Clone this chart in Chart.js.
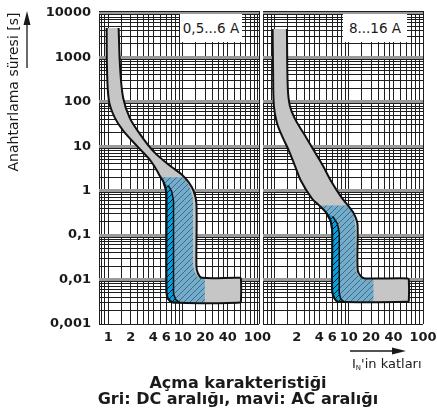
<!DOCTYPE html>
<html>
<head>
<meta charset="utf-8">
<script src="https://cdn.jsdelivr.net/npm/chart.js@4.4.1/dist/chart.umd.min.js"></script>
<style>
body { margin: 0; background: #fff; font-family: 'DejaVu Sans', sans-serif; color: #1a1a1a; }
#wrap { position: relative; width: 437px; height: 413px; overflow: hidden; }
canvas { position: absolute; top: 0; }
.box { position: absolute; top: 14px; height: 28px; background: #fff; font-size: 13.5px; line-height: 28px; text-align: center; }
#ytitle { position: absolute; left: 13px; top: 92px; transform: translate(-50%, -50%) rotate(-90deg); white-space: nowrap; font-size: 14px; }
#xunit { position: absolute; left: 352px; top: 356px; white-space: nowrap; font-size: 13px; }
#xunit sub { font-size: 7px; vertical-align: -2px; }
.cap { position: absolute; left: 0; width: 476px; text-align: center; font-weight: bold; font-size: 16px; line-height: 18px; white-space: nowrap; }
</style>
</head>
<body>
<div id="wrap">
  <canvas id="c1" width="280" height="350" style="left:0"></canvas>
  <canvas id="c2" width="175" height="350" style="left:262px"></canvas>
  <div class="box" style="left:180px;width:62px">0,5...6 A</div>
  <div class="box" style="left:343px;width:64px">8...16 A</div>
  <div id="ytitle">Anahtarlama süresi [s]</div>
  <svg width="437" height="413" style="position:absolute;left:0;top:0">
    <line x1="27" y1="68" x2="27" y2="22" stroke="#1a1a1a" stroke-width="1.3"/>
    <polygon points="27,11 23.5,25 30.5,25" fill="#1a1a1a"/>
    <line x1="350" y1="351" x2="394" y2="351" stroke="#1a1a1a" stroke-width="1.3"/>
    <polygon points="406,351 392,347.5 392,354.5" fill="#1a1a1a"/>
  </svg>
  <div id="xunit">I<sub>N</sub>'in katları</div>
  <div class="cap" style="top:374px">Açma karakteristiği</div>
  <div class="cap" style="top:390px">Gri: DC aralığı, mavi: AC aralığı</div>
</div>
<script>
// x: multiples of I_N, y: tripping time [s]
const yTickValues = [0.001, 0.01, 0.1, 1, 10, 100, 1000, 10000];
const yTickLabels = ['0,001', '0,01', '0,1', '1', '10', '100', '1000', '10000'];
const xTickValues1 = [1, 2, 4, 6, 10, 20, 40, 100];
const xTickLabels1 = ['1', '2', '4', '6', '10', '20', '40', '100'];
const xTickValues2 = [2, 4, 6, 10, 20, 40, 100];
const xTickLabels2 = ['2', '4', '6', '10', '20', '40', '100'];

// 0,5...6 A : grey DC band outline, AC (blue) area, dark blue strip
const band1 = [
  [0.95, 4560], [0.96, 578], [1.02, 105], [1.22, 43.8], [1.58, 22.4], [2.40, 10.3], [3.59, 5.0],
  [4.32, 3.15], [4.97, 2.08], [5.62, 1.45], [5.94, 1.01], [6.02, 0.668], [6.02, 0.0052],
  [6.35, 0.00364], [7.42, 0.00303], [58.5, 0.00303], [60.2, 0.0033], [60.2, 0.0102],
  [58.5, 0.011], [17.9, 0.011], [15.9, 0.0139], [15.2, 0.020], [15.2, 0.516], [14.0, 0.96],
  [12.0, 1.53], [9.64, 2.31], [6.66, 3.67], [3.94, 7.97], [2.63, 19.2], [1.93, 43.8],
  [1.58, 123], [1.44, 578], [1.375, 4560]
];
const ac1 = [
  [5.02, 2.0], [10.3, 2.0], [12.4, 1.20], [13.7, 0.668], [13.7, 0.020], [14.5, 0.0147],
  [16.1, 0.011], [19.7, 0.011], [19.7, 0.00303], [7.42, 0.00303], [6.35, 0.00364],
  [6.02, 0.0052], [6.02, 0.668], [5.94, 1.01], [5.62, 1.45]
];
const dark1 = [
  [5.45, 1.53], [5.94, 1.01], [6.02, 0.668], [6.02, 0.0052], [6.35, 0.00364], [7.42, 0.00303],
  [9.09, 0.00303], [8.03, 0.00354], [7.50, 0.00471], [7.50, 0.60], [7.09, 0.96], [6.37, 1.31]
];

// 8...16 A
const band2 = [
  [0.943, 4335], [0.957, 495], [0.981, 81.3], [1.077, 33.8], [1.257, 17.3], [1.56, 7.97],
  [1.88, 3.67], [2.26, 1.69], [3.18, 0.668], [3.99, 0.466], [5.06, 0.308], [5.72, 0.204],
  [5.99, 0.116], [5.99, 0.0052], [6.48, 0.00364], [7.12, 0.00316], [62.5, 0.00316],
  [64.5, 0.0034], [64.5, 0.0098], [62.5, 0.0106], [16.4, 0.0106], [14.5, 0.0119],
  [13.2, 0.0163], [13.2, 0.116], [13.0, 0.194], [11.68, 0.308], [10.0, 0.442], [7.81, 0.741],
  [5.72, 1.69], [4.47, 3.67], [3.39, 7.97], [2.48, 19.2], [1.88, 41.6], [1.61, 81.3],
  [1.51, 206], [1.47, 4335]
];
const ac2 = [
  [3.99, 0.466], [9.6, 0.466], [11.68, 0.293], [12.4, 0.128], [12.4, 0.0163], [13.6, 0.0122],
  [15.4, 0.0106], [21.5, 0.0106], [21.5, 0.00316], [7.12, 0.00316], [6.48, 0.00364],
  [5.99, 0.0052], [5.99, 0.116], [5.72, 0.204], [5.06, 0.308]
];
const dark2 = [
  [4.91, 0.316], [5.72, 0.204], [5.99, 0.116], [5.99, 0.0052], [6.48, 0.00364], [7.12, 0.00316],
  [8.65, 0.00316], [7.81, 0.00364], [7.45, 0.00496], [7.45, 0.116], [7.0, 0.184], [6.09, 0.264]
];

Chart.defaults.font.family = "'DejaVu Sans', sans-serif";
Chart.defaults.color = '#1a1a1a';

const minor = [1, 1.5, 2, 2.5, 3, 3.5, 4, 5, 6, 7, 8, 9];

function xGrid(min, max) {
  const out = [min];
  [0.1, 1, 10, 100].forEach(function (d) {
    minor.forEach(function (m) {
      const v = d * m;
      if (v > min * 1.01 && v < max * 0.99) out.push(v);
    });
  });
  out.push(max);
  return out;
}

function yGrid(max) {
  const out = [];
  yTickValues.forEach(function (d) {
    for (let m = 1; m <= 9; m++) {
      if (d * m <= max) out.push(d * m);
    }
  });
  out.push(max);
  return out;
}

function isDecade(v) {
  const l = Math.log10(v);
  return Math.abs(l - Math.round(l)) < 1e-9;
}

function hatch(ctx, bg, fg, step) {
  const c = document.createElement('canvas');
  c.width = c.height = step;
  const g = c.getContext('2d');
  g.fillStyle = bg;
  g.fillRect(0, 0, step, step);
  g.strokeStyle = fg;
  g.lineWidth = 1;
  g.beginPath();
  g.moveTo(-1, step + 1); g.lineTo(step + 1, -1);
  g.moveTo(-1, 1); g.lineTo(1, -1);
  g.moveTo(step - 1, step + 1); g.lineTo(step + 1, step - 1);
  g.stroke();
  return ctx.createPattern(c, 'repeat');
}

function pts(arr) {
  return arr.map(function (p) { return { x: p[0], y: p[1] }; });
}

function panelSets(ctx, band, ac, dark) {
  const base = { showLine: true, pointRadius: 0, tension: 0 };
  return [
    Object.assign({}, base, { data: pts(band), backgroundColor: '#c6c6c6', borderWidth: 0, fill: 'shape', tension: 0.35, order: 4 }),
    Object.assign({}, base, { data: pts(ac), backgroundColor: hatch(ctx, '#74accb', '#3f6a84', 6), borderWidth: 0, fill: 'shape', order: 3 }),
    Object.assign({}, base, { data: pts(dark), backgroundColor: hatch(ctx, '#00a0e2', '#0a0a0a', 6), borderColor: '#111', borderWidth: 1.5, fill: 'shape', order: 2 }),
    Object.assign({}, base, { data: pts(band), borderColor: '#111', borderWidth: 2, fill: false, tension: 0.35, order: 1 })
  ];
}

function noPad(s) {
  s.paddingTop = 0; s.paddingBottom = 0; s.paddingLeft = 0; s.paddingRight = 0;
}

function makeChart(id, band, ac, dark, xmin, xmax, xVals, xLabels, showY, padding) {
  const el = document.getElementById(id);
  const ctx = el.getContext('2d');
  const xg = xGrid(xmin, xmax);
  const yg = yGrid(11000);
  return new Chart(el, {
    type: 'scatter',
    data: { datasets: panelSets(ctx, band, ac, dark) },
    options: {
      animation: false,
      responsive: false,
      devicePixelRatio: 1,
      layout: { padding: padding },
      plugins: { legend: { display: false }, tooltip: { enabled: false } },
      scales: {
        x: {
          type: 'logarithmic',
          min: xmin,
          max: xmax,
          afterBuildTicks: function (s) { s.ticks = xg.map(function (v) { return { value: v }; }); },
          afterFit: function (s) { s.height = 26; noPad(s); },
          border: { display: false },
          grid: { drawTicks: false, color: '#1e1e1e', lineWidth: 1 },
          ticks: {
            autoSkip: false, maxRotation: 0, padding: 6,
            font: { weight: 'bold', size: 13 },
            callback: function (v) {
              const i = xVals.indexOf(v);
              return i < 0 ? '' : xLabels[i];
            }
          }
        },
        y: {
          type: 'logarithmic',
          min: 0.001,
          max: 11000,
          afterBuildTicks: function (s) { s.ticks = yg.map(function (v) { return { value: v }; }); },
          afterFit: function (s) { s.width = showY ? 99 : 0; noPad(s); },
          border: { display: false },
          grid: {
            drawTicks: false,
            color: function (c) {
              const v = c.tick ? c.tick.value : 0;
              return (isDecade(v) && v > 0.001) ? '#9a9a9a' : '#1e1e1e';
            },
            lineWidth: function (c) {
              const v = c.tick ? c.tick.value : 0;
              return (isDecade(v) && v > 0.001) ? 3 : 1;
            }
          },
          ticks: {
            display: showY,
            autoSkip: false, padding: 8,
            font: { weight: 'bold', size: 13 },
            callback: function (v) {
              const i = yTickValues.indexOf(v);
              return i < 0 ? '' : yTickLabels[i];
            }
          }
        }
      }
    }
  });
}

makeChart('c1', band1, ac1, dark1, 0.75, 105, xTickValues1, xTickLabels1, true,
  { left: 0, right: 21, top: 11, bottom: 0 });
makeChart('c2', band2, ac2, dark2, 0.70, 100, xTickValues2, xTickLabels2, false,
  { left: 1, right: 14, top: 11, bottom: 0 });
</script>
</body>
</html>
